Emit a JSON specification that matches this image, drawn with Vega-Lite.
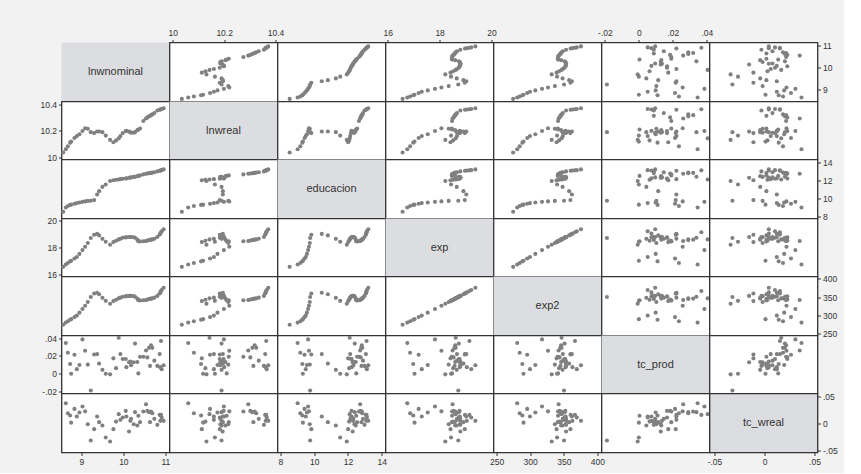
{
"$schema": "https://vega.github.io/schema/vega-lite/v6.json",
"background": "#f2f2f2",
"padding": {"left": 38.5, "top": 27.5, "right": 5, "bottom": 5},
"datasets": {"d": [
{"lnwnominal":8.564,"lnwreal":10.035,"educacion":8.55,"exp":16.57,"exp2":274.6,"tc_prod":null,"tc_wreal":null},
{"lnwnominal":8.627,"lnwreal":10.06,"educacion":9.02,"exp":16.75,"exp2":280.6,"tc_prod":0.0346,"tc_wreal":0.037},
{"lnwnominal":8.675,"lnwreal":10.082,"educacion":9.18,"exp":16.86,"exp2":284.3,"tc_prod":0.0236,"tc_wreal":0.0185},
{"lnwnominal":8.73,"lnwreal":10.11,"educacion":9.3,"exp":16.98,"exp2":288.3,"tc_prod":0.011,"tc_wreal":0.0142},
{"lnwnominal":8.754,"lnwreal":10.118,"educacion":9.33,"exp":17.03,"exp2":290.0,"tc_prod":0.0,"tc_wreal":0.001},
{"lnwnominal":8.833,"lnwreal":10.145,"educacion":9.43,"exp":17.19,"exp2":295.5,"tc_prod":0.0213,"tc_wreal":0.0265},
{"lnwnominal":8.889,"lnwreal":10.16,"educacion":9.5,"exp":17.31,"exp2":299.6,"tc_prod":0.0052,"tc_wreal":0.0123},
{"lnwnominal":8.952,"lnwreal":10.174,"educacion":9.57,"exp":17.54,"exp2":307.6,"tc_prod":0.0099,"tc_wreal":0.0197},
{"lnwnominal":9.024,"lnwreal":10.199,"educacion":9.64,"exp":17.82,"exp2":317.6,"tc_prod":0.0386,"tc_wreal":0.0309},
{"lnwnominal":9.087,"lnwreal":10.22,"educacion":9.69,"exp":18.07,"exp2":326.5,"tc_prod":0.0258,"tc_wreal":0.022},
{"lnwnominal":9.151,"lnwreal":10.216,"educacion":9.74,"exp":18.35,"exp2":336.7,"tc_prod":0.0103,"tc_wreal":-0.0019},
{"lnwnominal":9.222,"lnwreal":10.19,"educacion":9.76,"exp":18.72,"exp2":350.4,"tc_prod":-0.0188,"tc_wreal":-0.0321},
{"lnwnominal":9.302,"lnwreal":10.183,"educacion":9.83,"exp":18.97,"exp2":359.9,"tc_prod":0.0217,"tc_wreal":-0.0111},
{"lnwnominal":9.373,"lnwreal":10.195,"educacion":10.45,"exp":19.03,"exp2":362.1,"tc_prod":0.0221,"tc_wreal":0.0123},
{"lnwnominal":9.421,"lnwreal":10.195,"educacion":10.81,"exp":18.92,"exp2":358.0,"tc_prod":0.0114,"tc_wreal":0.0019},
{"lnwnominal":9.5,"lnwreal":10.19,"educacion":11.28,"exp":18.66,"exp2":348.2,"tc_prod":0.0044,"tc_wreal":-0.0043},
{"lnwnominal":9.579,"lnwreal":10.164,"educacion":11.54,"exp":18.44,"exp2":340.0,"tc_prod":0.0,"tc_wreal":-0.0265},
{"lnwnominal":9.683,"lnwreal":10.131,"educacion":11.93,"exp":18.22,"exp2":332.0,"tc_prod":-0.0007,"tc_wreal":-0.0339},
{"lnwnominal":9.762,"lnwreal":10.113,"educacion":12.01,"exp":18.42,"exp2":339.3,"tc_prod":0.0173,"tc_wreal":-0.0111},
{"lnwnominal":9.825,"lnwreal":10.127,"educacion":12.07,"exp":18.52,"exp2":343.0,"tc_prod":0.0063,"tc_wreal":0.003},
{"lnwnominal":9.889,"lnwreal":10.143,"educacion":12.1,"exp":18.62,"exp2":346.7,"tc_prod":0.0405,"tc_wreal":0.0167},
{"lnwnominal":9.929,"lnwreal":10.16,"educacion":12.13,"exp":18.67,"exp2":348.6,"tc_prod":0.0221,"tc_wreal":0.0062},
{"lnwnominal":9.984,"lnwreal":10.183,"educacion":12.17,"exp":18.74,"exp2":351.2,"tc_prod":0.0166,"tc_wreal":0.0105},
{"lnwnominal":10.056,"lnwreal":10.198,"educacion":12.21,"exp":18.77,"exp2":352.3,"tc_prod":0.0166,"tc_wreal":0.0228},
{"lnwnominal":10.071,"lnwreal":10.2,"educacion":12.22,"exp":18.78,"exp2":352.7,"tc_prod":0.0074,"tc_wreal":0.0123},
{"lnwnominal":10.135,"lnwreal":10.194,"educacion":12.28,"exp":18.8,"exp2":353.4,"tc_prod":0.0129,"tc_wreal":-0.0154},
{"lnwnominal":10.167,"lnwreal":10.19,"educacion":12.3,"exp":18.8,"exp2":353.4,"tc_prod":0.0136,"tc_wreal":0.0043},
{"lnwnominal":10.183,"lnwreal":10.185,"educacion":12.32,"exp":18.8,"exp2":353.4,"tc_prod":0.0096,"tc_wreal":0.008},
{"lnwnominal":10.246,"lnwreal":10.185,"educacion":12.38,"exp":18.78,"exp2":352.7,"tc_prod":0.0129,"tc_wreal":-0.0019},
{"lnwnominal":10.278,"lnwreal":10.19,"educacion":12.4,"exp":18.74,"exp2":351.2,"tc_prod":0.0339,"tc_wreal":0.0204},
{"lnwnominal":10.333,"lnwreal":10.205,"educacion":12.46,"exp":18.6,"exp2":346.0,"tc_prod":0.0132,"tc_wreal":-0.0043},
{"lnwnominal":10.357,"lnwreal":10.21,"educacion":12.49,"exp":18.48,"exp2":341.5,"tc_prod":0.0004,"tc_wreal":0.0137},
{"lnwnominal":10.397,"lnwreal":10.218,"educacion":12.54,"exp":18.47,"exp2":341.1,"tc_prod":0.0191,"tc_wreal":0.0019},
{"lnwnominal":10.476,"lnwreal":10.275,"educacion":12.65,"exp":18.48,"exp2":341.5,"tc_prod":0.0191,"tc_wreal":0.0216},
{"lnwnominal":10.54,"lnwreal":10.294,"educacion":12.72,"exp":18.5,"exp2":342.3,"tc_prod":0.0261,"tc_wreal":0.0352},
{"lnwnominal":10.571,"lnwreal":10.302,"educacion":12.75,"exp":18.54,"exp2":343.7,"tc_prod":0.0184,"tc_wreal":0.0228},
{"lnwnominal":10.611,"lnwreal":10.31,"educacion":12.78,"exp":18.57,"exp2":344.8,"tc_prod":0.0291,"tc_wreal":0.0204},
{"lnwnominal":10.635,"lnwreal":10.314,"educacion":12.8,"exp":18.58,"exp2":345.2,"tc_prod":0.0088,"tc_wreal":0.0019},
{"lnwnominal":10.659,"lnwreal":10.319,"educacion":12.82,"exp":18.6,"exp2":346.0,"tc_prod":0.032,"tc_wreal":0.0216},
{"lnwnominal":10.69,"lnwreal":10.325,"educacion":12.85,"exp":18.62,"exp2":346.7,"tc_prod":0.0291,"tc_wreal":0.0185},
{"lnwnominal":10.738,"lnwreal":10.335,"educacion":12.89,"exp":18.67,"exp2":348.6,"tc_prod":0.0147,"tc_wreal":0.008},
{"lnwnominal":10.81,"lnwreal":10.355,"educacion":12.98,"exp":18.8,"exp2":353.4,"tc_prod":0.0088,"tc_wreal":-0.0031},
{"lnwnominal":10.865,"lnwreal":10.36,"educacion":13.06,"exp":18.98,"exp2":360.2,"tc_prod":0.0221,"tc_wreal":0.0154},
{"lnwnominal":10.881,"lnwreal":10.362,"educacion":13.08,"exp":19.05,"exp2":362.9,"tc_prod":0.0074,"tc_wreal":0.0043},
{"lnwnominal":10.897,"lnwreal":10.364,"educacion":13.1,"exp":19.15,"exp2":366.7,"tc_prod":0.0368,"tc_wreal":0.0154},
{"lnwnominal":10.913,"lnwreal":10.366,"educacion":13.12,"exp":19.22,"exp2":369.4,"tc_prod":0.0052,"tc_wreal":0.0105},
{"lnwnominal":10.96,"lnwreal":10.372,"educacion":13.2,"exp":19.38,"exp2":375.6,"tc_prod":0.0096,"tc_wreal":0.0043}
]},
"columns": 7,
"spacing": 0,
"bounds": "flush",
"concat": [
{"width":108,"height":59,"view":{"fill":"#dcdde0"},"data":{"values":[{"label":"lnwnominal"}]},"mark":"text","encoding":{"text":{"field":"label","type":"nominal"}}},
{"width":108,"height":59,"data":{"name":"d"},"mark":"point","encoding":{"x":{"field":"lnwreal","type":"quantitative","scale":{"domain":[9.987,10.408],"nice":false,"zero":false},"axis":{"orient":"top","values":[10,10.2,10.4],"format":"~f","title":null}},"y":{"field":"lnwnominal","type":"quantitative","scale":{"domain":[8.447,11.138],"nice":false,"zero":false},"axis":null}}},
{"width":108,"height":59,"data":{"name":"d"},"mark":"point","encoding":{"x":{"field":"educacion","type":"quantitative","scale":{"domain":[7.83,14.22],"nice":false,"zero":false},"axis":null},"y":{"field":"lnwnominal","type":"quantitative","scale":{"domain":[8.447,11.138],"nice":false,"zero":false},"axis":null}}},
{"width":108,"height":59,"data":{"name":"d"},"mark":"point","encoding":{"x":{"field":"exp","type":"quantitative","scale":{"domain":[15.91,20.08],"nice":false,"zero":false},"axis":{"orient":"top","values":[16,18,20],"format":"~f","title":null}},"y":{"field":"lnwnominal","type":"quantitative","scale":{"domain":[8.447,11.138],"nice":false,"zero":false},"axis":null}}},
{"width":108,"height":59,"data":{"name":"d"},"mark":"point","encoding":{"x":{"field":"exp2","type":"quantitative","scale":{"domain":[245.3,406.2],"nice":false,"zero":false},"axis":null},"y":{"field":"lnwnominal","type":"quantitative","scale":{"domain":[8.447,11.138],"nice":false,"zero":false},"axis":null}}},
{"width":108,"height":59,"data":{"name":"d"},"mark":"point","encoding":{"x":{"field":"tc_prod","type":"quantitative","scale":{"domain":[-0.022,0.0416],"nice":false,"zero":false},"axis":{"orient":"top","values":[-0.02,0,0.02,0.04],"labelExpr":"replace(replace(format(datum.value,'~f'),'0.','.'),'\u2212','-')","title":null}},"y":{"field":"lnwnominal","type":"quantitative","scale":{"domain":[8.447,11.138],"nice":false,"zero":false},"axis":null}}},
{"width":108,"height":59,"data":{"name":"d"},"mark":"point","encoding":{"x":{"field":"tc_wreal","type":"quantitative","scale":{"domain":[-0.055,0.053],"nice":false,"zero":false},"axis":null},"y":{"field":"lnwnominal","type":"quantitative","scale":{"domain":[8.447,11.138],"nice":false,"zero":false},"axis":{"orient":"right","values":[9,10,11],"format":"~f","title":null}}}},

{"width":108,"height":58,"data":{"name":"d"},"mark":"point","encoding":{"x":{"field":"lnwnominal","type":"quantitative","scale":{"domain":[8.524,11.1],"nice":false,"zero":false},"axis":null},"y":{"field":"lnwreal","type":"quantitative","scale":{"domain":[9.982,10.423],"nice":false,"zero":false},"axis":{"orient":"left","values":[10,10.2,10.4],"format":"~f","title":null}}}},
{"width":108,"height":58,"view":{"fill":"#dcdde0"},"data":{"values":[{"label":"lnwreal"}]},"mark":"text","encoding":{"text":{"field":"label","type":"nominal"}}},
{"width":108,"height":58,"data":{"name":"d"},"mark":"point","encoding":{"x":{"field":"educacion","type":"quantitative","scale":{"domain":[7.83,14.22],"nice":false,"zero":false},"axis":null},"y":{"field":"lnwreal","type":"quantitative","scale":{"domain":[9.982,10.423],"nice":false,"zero":false},"axis":null}}},
{"width":108,"height":58,"data":{"name":"d"},"mark":"point","encoding":{"x":{"field":"exp","type":"quantitative","scale":{"domain":[15.91,20.08],"nice":false,"zero":false},"axis":null},"y":{"field":"lnwreal","type":"quantitative","scale":{"domain":[9.982,10.423],"nice":false,"zero":false},"axis":null}}},
{"width":108,"height":58,"data":{"name":"d"},"mark":"point","encoding":{"x":{"field":"exp2","type":"quantitative","scale":{"domain":[245.3,406.2],"nice":false,"zero":false},"axis":null},"y":{"field":"lnwreal","type":"quantitative","scale":{"domain":[9.982,10.423],"nice":false,"zero":false},"axis":null}}},
{"width":108,"height":58,"data":{"name":"d"},"mark":"point","encoding":{"x":{"field":"tc_prod","type":"quantitative","scale":{"domain":[-0.022,0.0416],"nice":false,"zero":false},"axis":null},"y":{"field":"lnwreal","type":"quantitative","scale":{"domain":[9.982,10.423],"nice":false,"zero":false},"axis":null}}},
{"width":108,"height":58,"data":{"name":"d"},"mark":"point","encoding":{"x":{"field":"tc_wreal","type":"quantitative","scale":{"domain":[-0.055,0.053],"nice":false,"zero":false},"axis":null},"y":{"field":"lnwreal","type":"quantitative","scale":{"domain":[9.982,10.423],"nice":false,"zero":false},"axis":null}}},

{"width":108,"height":59,"data":{"name":"d"},"mark":"point","encoding":{"x":{"field":"lnwnominal","type":"quantitative","scale":{"domain":[8.524,11.1],"nice":false,"zero":false},"axis":null},"y":{"field":"educacion","type":"quantitative","scale":{"domain":[7.81,14.29],"nice":false,"zero":false},"axis":null}}},
{"width":108,"height":59,"data":{"name":"d"},"mark":"point","encoding":{"x":{"field":"lnwreal","type":"quantitative","scale":{"domain":[9.987,10.408],"nice":false,"zero":false},"axis":null},"y":{"field":"educacion","type":"quantitative","scale":{"domain":[7.81,14.29],"nice":false,"zero":false},"axis":null}}},
{"width":108,"height":59,"view":{"fill":"#dcdde0"},"data":{"values":[{"label":"educacion"}]},"mark":"text","encoding":{"text":{"field":"label","type":"nominal"}}},
{"width":108,"height":59,"data":{"name":"d"},"mark":"point","encoding":{"x":{"field":"exp","type":"quantitative","scale":{"domain":[15.91,20.08],"nice":false,"zero":false},"axis":null},"y":{"field":"educacion","type":"quantitative","scale":{"domain":[7.81,14.29],"nice":false,"zero":false},"axis":null}}},
{"width":108,"height":59,"data":{"name":"d"},"mark":"point","encoding":{"x":{"field":"exp2","type":"quantitative","scale":{"domain":[245.3,406.2],"nice":false,"zero":false},"axis":null},"y":{"field":"educacion","type":"quantitative","scale":{"domain":[7.81,14.29],"nice":false,"zero":false},"axis":null}}},
{"width":108,"height":59,"data":{"name":"d"},"mark":"point","encoding":{"x":{"field":"tc_prod","type":"quantitative","scale":{"domain":[-0.022,0.0416],"nice":false,"zero":false},"axis":null},"y":{"field":"educacion","type":"quantitative","scale":{"domain":[7.81,14.29],"nice":false,"zero":false},"axis":null}}},
{"width":108,"height":59,"data":{"name":"d"},"mark":"point","encoding":{"x":{"field":"tc_wreal","type":"quantitative","scale":{"domain":[-0.055,0.053],"nice":false,"zero":false},"axis":null},"y":{"field":"educacion","type":"quantitative","scale":{"domain":[7.81,14.29],"nice":false,"zero":false},"axis":{"orient":"right","values":[8,10,12,14],"format":"~f","title":null}}}},

{"width":108,"height":58,"data":{"name":"d"},"mark":"point","encoding":{"x":{"field":"lnwnominal","type":"quantitative","scale":{"domain":[8.524,11.1],"nice":false,"zero":false},"axis":null},"y":{"field":"exp","type":"quantitative","scale":{"domain":[15.85,20.18],"nice":false,"zero":false},"axis":{"orient":"left","values":[16,18,20],"format":"~f","title":null}}}},
{"width":108,"height":58,"data":{"name":"d"},"mark":"point","encoding":{"x":{"field":"lnwreal","type":"quantitative","scale":{"domain":[9.987,10.408],"nice":false,"zero":false},"axis":null},"y":{"field":"exp","type":"quantitative","scale":{"domain":[15.85,20.18],"nice":false,"zero":false},"axis":null}}},
{"width":108,"height":58,"data":{"name":"d"},"mark":"point","encoding":{"x":{"field":"educacion","type":"quantitative","scale":{"domain":[7.83,14.22],"nice":false,"zero":false},"axis":null},"y":{"field":"exp","type":"quantitative","scale":{"domain":[15.85,20.18],"nice":false,"zero":false},"axis":null}}},
{"width":108,"height":58,"view":{"fill":"#dcdde0"},"data":{"values":[{"label":"exp"}]},"mark":"text","encoding":{"text":{"field":"label","type":"nominal"}}},
{"width":108,"height":58,"data":{"name":"d"},"mark":"point","encoding":{"x":{"field":"exp2","type":"quantitative","scale":{"domain":[245.3,406.2],"nice":false,"zero":false},"axis":null},"y":{"field":"exp","type":"quantitative","scale":{"domain":[15.85,20.18],"nice":false,"zero":false},"axis":null}}},
{"width":108,"height":58,"data":{"name":"d"},"mark":"point","encoding":{"x":{"field":"tc_prod","type":"quantitative","scale":{"domain":[-0.022,0.0416],"nice":false,"zero":false},"axis":null},"y":{"field":"exp","type":"quantitative","scale":{"domain":[15.85,20.18],"nice":false,"zero":false},"axis":null}}},
{"width":108,"height":58,"data":{"name":"d"},"mark":"point","encoding":{"x":{"field":"tc_wreal","type":"quantitative","scale":{"domain":[-0.055,0.053],"nice":false,"zero":false},"axis":null},"y":{"field":"exp","type":"quantitative","scale":{"domain":[15.85,20.18],"nice":false,"zero":false},"axis":null}}},

{"width":108,"height":59,"data":{"name":"d"},"mark":"point","encoding":{"x":{"field":"lnwnominal","type":"quantitative","scale":{"domain":[8.524,11.1],"nice":false,"zero":false},"axis":null},"y":{"field":"exp2","type":"quantitative","scale":{"domain":[245.3,406.4],"nice":false,"zero":false},"axis":null}}},
{"width":108,"height":59,"data":{"name":"d"},"mark":"point","encoding":{"x":{"field":"lnwreal","type":"quantitative","scale":{"domain":[9.987,10.408],"nice":false,"zero":false},"axis":null},"y":{"field":"exp2","type":"quantitative","scale":{"domain":[245.3,406.4],"nice":false,"zero":false},"axis":null}}},
{"width":108,"height":59,"data":{"name":"d"},"mark":"point","encoding":{"x":{"field":"educacion","type":"quantitative","scale":{"domain":[7.83,14.22],"nice":false,"zero":false},"axis":null},"y":{"field":"exp2","type":"quantitative","scale":{"domain":[245.3,406.4],"nice":false,"zero":false},"axis":null}}},
{"width":108,"height":59,"data":{"name":"d"},"mark":"point","encoding":{"x":{"field":"exp","type":"quantitative","scale":{"domain":[15.91,20.08],"nice":false,"zero":false},"axis":null},"y":{"field":"exp2","type":"quantitative","scale":{"domain":[245.3,406.4],"nice":false,"zero":false},"axis":null}}},
{"width":108,"height":59,"view":{"fill":"#dcdde0"},"data":{"values":[{"label":"exp2"}]},"mark":"text","encoding":{"text":{"field":"label","type":"nominal"}}},
{"width":108,"height":59,"data":{"name":"d"},"mark":"point","encoding":{"x":{"field":"tc_prod","type":"quantitative","scale":{"domain":[-0.022,0.0416],"nice":false,"zero":false},"axis":null},"y":{"field":"exp2","type":"quantitative","scale":{"domain":[245.3,406.4],"nice":false,"zero":false},"axis":null}}},
{"width":108,"height":59,"data":{"name":"d"},"mark":"point","encoding":{"x":{"field":"tc_wreal","type":"quantitative","scale":{"domain":[-0.055,0.053],"nice":false,"zero":false},"axis":null},"y":{"field":"exp2","type":"quantitative","scale":{"domain":[245.3,406.4],"nice":false,"zero":false},"axis":{"orient":"right","values":[250,300,350,400],"format":"~f","title":null}}}},

{"width":108,"height":58,"data":{"name":"d"},"mark":"point","encoding":{"x":{"field":"lnwnominal","type":"quantitative","scale":{"domain":[8.524,11.1],"nice":false,"zero":false},"axis":null},"y":{"field":"tc_prod","type":"quantitative","scale":{"domain":[-0.0222,0.043],"nice":false,"zero":false},"axis":{"orient":"left","values":[-0.02,0,0.02,0.04],"labelExpr":"replace(replace(format(datum.value,'~f'),'0.','.'),'\u2212','-')","title":null}}}},
{"width":108,"height":58,"data":{"name":"d"},"mark":"point","encoding":{"x":{"field":"lnwreal","type":"quantitative","scale":{"domain":[9.987,10.408],"nice":false,"zero":false},"axis":null},"y":{"field":"tc_prod","type":"quantitative","scale":{"domain":[-0.0222,0.043],"nice":false,"zero":false},"axis":null}}},
{"width":108,"height":58,"data":{"name":"d"},"mark":"point","encoding":{"x":{"field":"educacion","type":"quantitative","scale":{"domain":[7.83,14.22],"nice":false,"zero":false},"axis":null},"y":{"field":"tc_prod","type":"quantitative","scale":{"domain":[-0.0222,0.043],"nice":false,"zero":false},"axis":null}}},
{"width":108,"height":58,"data":{"name":"d"},"mark":"point","encoding":{"x":{"field":"exp","type":"quantitative","scale":{"domain":[15.91,20.08],"nice":false,"zero":false},"axis":null},"y":{"field":"tc_prod","type":"quantitative","scale":{"domain":[-0.0222,0.043],"nice":false,"zero":false},"axis":null}}},
{"width":108,"height":58,"data":{"name":"d"},"mark":"point","encoding":{"x":{"field":"exp2","type":"quantitative","scale":{"domain":[245.3,406.2],"nice":false,"zero":false},"axis":null},"y":{"field":"tc_prod","type":"quantitative","scale":{"domain":[-0.0222,0.043],"nice":false,"zero":false},"axis":null}}},
{"width":108,"height":58,"view":{"fill":"#dcdde0"},"data":{"values":[{"label":"tc_prod"}]},"mark":"text","encoding":{"text":{"field":"label","type":"nominal"}}},
{"width":108,"height":58,"data":{"name":"d"},"mark":"point","encoding":{"x":{"field":"tc_wreal","type":"quantitative","scale":{"domain":[-0.055,0.053],"nice":false,"zero":false},"axis":null},"y":{"field":"tc_prod","type":"quantitative","scale":{"domain":[-0.0222,0.043],"nice":false,"zero":false},"axis":null}}},

{"width":108,"height":59,"data":{"name":"d"},"mark":"point","encoding":{"x":{"field":"lnwnominal","type":"quantitative","scale":{"domain":[8.524,11.1],"nice":false,"zero":false},"axis":{"orient":"bottom","values":[9,10,11],"format":"~f","title":null}},"y":{"field":"tc_wreal","type":"quantitative","scale":{"domain":[-0.0543,0.055],"nice":false,"zero":false},"axis":null}}},
{"width":108,"height":59,"data":{"name":"d"},"mark":"point","encoding":{"x":{"field":"lnwreal","type":"quantitative","scale":{"domain":[9.987,10.408],"nice":false,"zero":false},"axis":null},"y":{"field":"tc_wreal","type":"quantitative","scale":{"domain":[-0.0543,0.055],"nice":false,"zero":false},"axis":null}}},
{"width":108,"height":59,"data":{"name":"d"},"mark":"point","encoding":{"x":{"field":"educacion","type":"quantitative","scale":{"domain":[7.83,14.22],"nice":false,"zero":false},"axis":{"orient":"bottom","values":[8,10,12,14],"format":"~f","title":null}},"y":{"field":"tc_wreal","type":"quantitative","scale":{"domain":[-0.0543,0.055],"nice":false,"zero":false},"axis":null}}},
{"width":108,"height":59,"data":{"name":"d"},"mark":"point","encoding":{"x":{"field":"exp","type":"quantitative","scale":{"domain":[15.91,20.08],"nice":false,"zero":false},"axis":null},"y":{"field":"tc_wreal","type":"quantitative","scale":{"domain":[-0.0543,0.055],"nice":false,"zero":false},"axis":null}}},
{"width":108,"height":59,"data":{"name":"d"},"mark":"point","encoding":{"x":{"field":"exp2","type":"quantitative","scale":{"domain":[245.3,406.2],"nice":false,"zero":false},"axis":{"orient":"bottom","values":[250,300,350,400],"format":"~f","title":null}},"y":{"field":"tc_wreal","type":"quantitative","scale":{"domain":[-0.0543,0.055],"nice":false,"zero":false},"axis":null}}},
{"width":108,"height":59,"data":{"name":"d"},"mark":"point","encoding":{"x":{"field":"tc_prod","type":"quantitative","scale":{"domain":[-0.022,0.0416],"nice":false,"zero":false},"axis":null},"y":{"field":"tc_wreal","type":"quantitative","scale":{"domain":[-0.0543,0.055],"nice":false,"zero":false},"axis":null}}},
{"width":108,"height":59,"view":{"fill":"#dcdde0"},"layer":[
 {"data":{"name":"d"},"mark":{"type":"point","opacity":0},"encoding":{"x":{"field":"tc_wreal","type":"quantitative","scale":{"domain":[-0.055,0.053],"nice":false,"zero":false},"axis":{"orient":"bottom","values":[-0.05,0,0.05],"labelExpr":"replace(replace(format(datum.value,'~f'),'0.','.'),'\u2212','-')","title":null}},"y":{"field":"tc_wreal","type":"quantitative","scale":{"domain":[-0.0543,0.055],"nice":false,"zero":false},"axis":{"orient":"right","values":[-0.05,0,0.05],"labelExpr":"replace(replace(format(datum.value,'~f'),'0.','.'),'\u2212','-')","title":null}}}},
 {"data":{"values":[{"label":"tc_wreal"}]},"mark":"text","encoding":{"text":{"field":"label","type":"nominal"}}}
]}
],
"config": {
 "view": {"stroke": "#333333", "strokeWidth": 1.3, "fill": "#ffffff"},
 "point": {"filled": true, "size": 17, "color": "#808080", "opacity": 1},
 "text": {"font": "Liberation Sans", "fontSize": 11, "color": "#333333"},
 "axis": {"domain": false, "grid": false, "tickSize": 3, "tickColor": "#333333", "tickWidth": 1, "labelFont": "Liberation Sans", "labelFontSize": 8.5, "labelColor": "#333333", "labelPadding": 2, "labelFlush": false, "labelOverlap": false}
}
}
